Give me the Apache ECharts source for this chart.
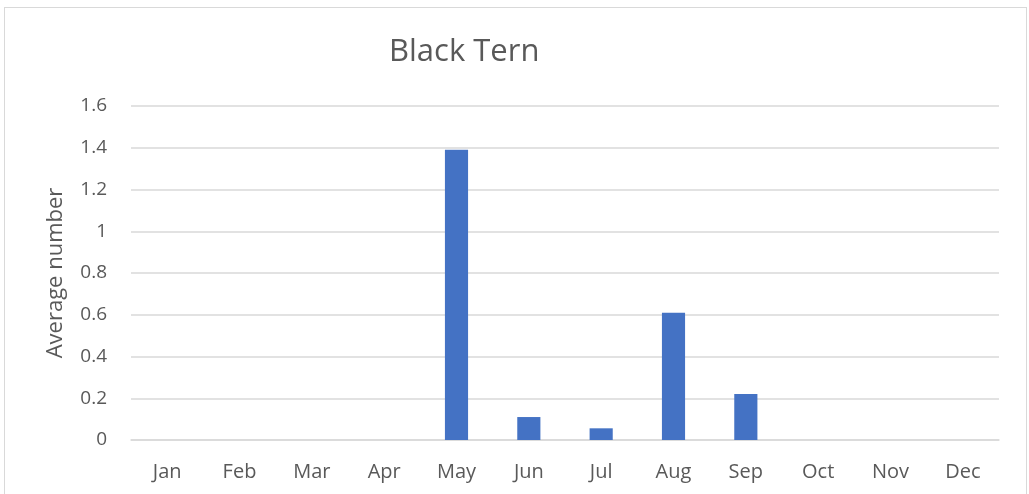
<!DOCTYPE html>
<html><head><meta charset="utf-8">
<script src="https://cdn.jsdelivr.net/npm/echarts@6/dist/echarts.min.js"></script>
<style>html,body{margin:0;padding:0;background:#fff}#c{width:1029px;height:494px}
#b{position:absolute;left:4px;top:7px;width:1023px;height:495px;border:1px solid #d9d9d9;box-sizing:border-box;pointer-events:none}</style>
</head><body><div id="c"></div><div id="b"></div>
<script>
const categories = ['Jan','Feb','Mar','Apr','May','Jun','Jul','Aug','Sep','Oct','Nov','Dec'];
const values = [0,0,0,0,1.39,0.11,0.056,0.61,0.22,0,0,0];
const yTicks = [0,0.2,0.4,0.6,0.8,1,1.2,1.4,1.6];
const font = '"Open Sans", sans-serif';
const chart = echarts.init(document.getElementById('c'));
chart.setOption({
  animation:false,
  title:{text:'Black Tern',left:384,top:32,textStyle:{fontFamily:font,fontSize:31,fontWeight:'normal',color:'#595959'}},
  grid:{left:131,right:30,top:106,bottom:54},
  xAxis:{type:'category',data:categories,axisTick:{show:false},
    axisLine:{lineStyle:{color:'#d9d9d9',width:1.5}},
    axisLabel:{fontFamily:font,fontSize:20,color:'#595959',margin:22}},
  yAxis:{type:'value',min:0,max:1.6,interval:0.2,
    name:'Average number',nameLocation:'middle',nameGap:64,
    nameTextStyle:{fontFamily:font,fontSize:22,color:'#595959'},
    axisLine:{show:false},axisTick:{show:false},
    splitLine:{lineStyle:{color:'#d9d9d9',width:1.5}},
    axisLabel:{fontFamily:font,fontSize:19,color:'#595959',margin:24,
      formatter:v=>{const t=yTicks.find(x=>Math.abs(x-v)<1e-9);return String(t!==undefined?t:v);}}},
  series:[{type:'bar',data:values,barWidth:'32%',itemStyle:{color:'#4472c4'}}]
});
</script></body></html>
